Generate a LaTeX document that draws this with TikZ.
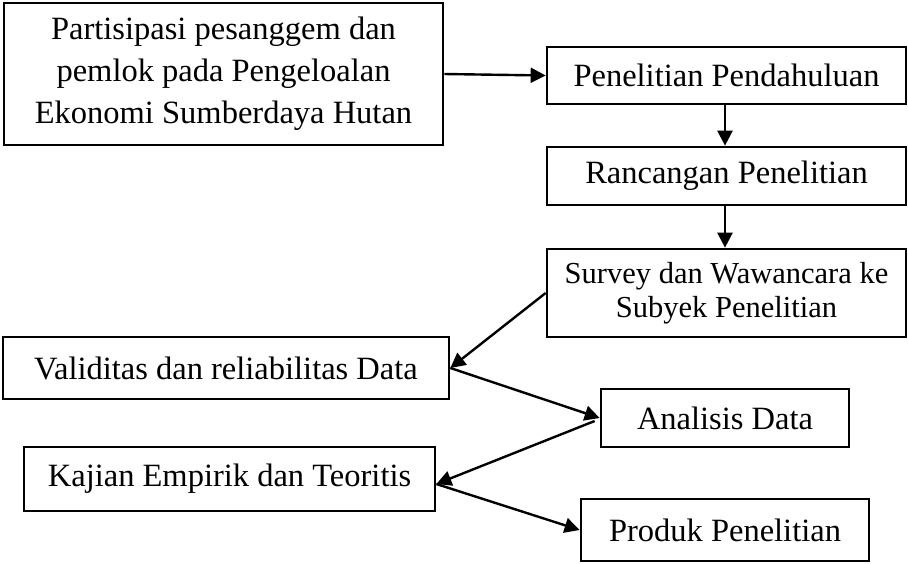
\documentclass[tikz,border=0pt]{standalone}
\usepackage{fontspec}
\setmainfont{Liberation Serif}
\usetikzlibrary{arrows.meta}
\tikzset{
  box/.style={draw, line width=2.7pt, inner sep=0pt, align=center,
    font=\fontsize{32.5}{42}\selectfont},
  conn/.style={line width=2.4pt, -{Triangle[length=15pt,width=15pt]}}
}
\begin{document}
\begin{tikzpicture}[x=1pt,y=-1pt]
\useasboundingbox (0,0) rectangle (908,563);
\node[box, minimum width=439pt, minimum height=142pt] (b1) at (223.5,74)
  {Partisipasi pesanggem dan\\pemlok pada Pengeloalan\\Ekonomi Sumberdaya Hutan};
\node[box, minimum width=359pt, minimum height=57pt] (b2) at (726.5,75.5) {Penelitian Pendahuluan};
\node[box, minimum width=359pt, minimum height=58pt] (b3) at (726.5,176) {Rancangan Penelitian};
\node[box, minimum width=359pt, minimum height=88pt, font=\fontsize{30.5}{34}\selectfont] (b4) at (726.5,293)
  {Survey dan Wawancara ke\\Subyek Penelitian};
\node[box, minimum width=446pt, minimum height=62pt] (val) at (226,368) {Validitas dan reliabilitas Data};
\node[box, minimum width=248pt, minimum height=58pt] (ana) at (725,418) {Analisis Data};
\node[box, minimum width=411pt, minimum height=64pt] (kaj) at (229.5,479) {Kajian Empirik dan Teoritis};
\node[box, minimum width=288pt, minimum height=62pt] (pro) at (725,530) {Produk Penelitian};

\draw[conn] (b1.east) -- (b2.west);
\draw[conn] ([xshift=-1.5pt]b2.south) -- ([xshift=-1.5pt]b3.north);
\draw[conn] ([xshift=-1.5pt]b3.south) -- ([xshift=-1.5pt]b4.north);
\draw[conn] (b4.west) -- (val.east);
\draw[conn] (val.east) -- (ana.west);
\draw[conn] ([xshift=-5pt,yshift=-3pt]ana.west) -- ([yshift=-5pt]kaj.east);
\draw[conn] ([yshift=-5pt]kaj.east) -- (pro.west);
\end{tikzpicture}
\end{document}
